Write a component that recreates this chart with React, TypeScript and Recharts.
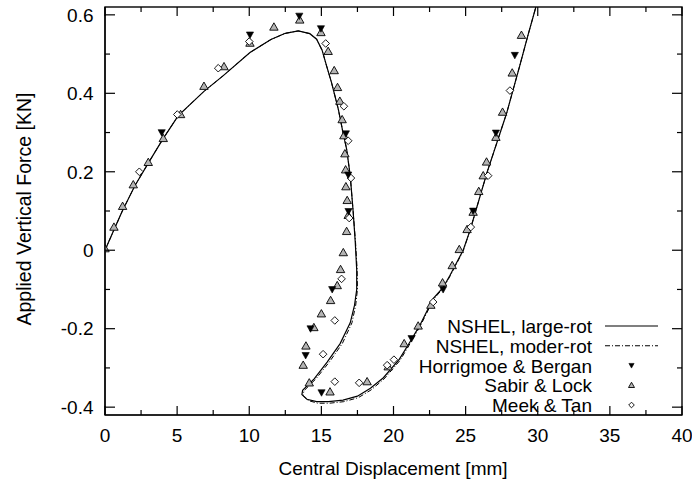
import React from "react"
import { ComposedChart, Line, Scatter, XAxis, YAxis } from "recharts"

// NSHEL curves (x = displacement mm, y = force KN)
const largeRot = [
  { x: 0, y: 0 }, { x: 0.6, y: 0.05 }, { x: 1.2, y: 0.1 }, { x: 2.08, y: 0.165 },
  { x: 3.0, y: 0.222 }, { x: 4.02, y: 0.284 }, { x: 5.08, y: 0.343 }, { x: 6.86, y: 0.405 },
  { x: 8.2, y: 0.445 }, { x: 10.05, y: 0.504 }, { x: 11.5, y: 0.537 }, { x: 12.5, y: 0.553 },
  { x: 13.4, y: 0.559 }, { x: 14.2, y: 0.552 }, { x: 14.67, y: 0.538 }, { x: 15.05, y: 0.51 },
  { x: 15.36, y: 0.47 }, { x: 15.7, y: 0.428 }, { x: 16.17, y: 0.36 }, { x: 16.5, y: 0.3 },
  { x: 16.75, y: 0.258 }, { x: 17.0, y: 0.19 }, { x: 17.2, y: 0.1 }, { x: 17.35, y: 0.02 },
  { x: 17.45, y: -0.05 }, { x: 17.45, y: -0.1 }, { x: 17.3, y: -0.14 }, { x: 17.0, y: -0.185 },
  { x: 16.3, y: -0.238 }, { x: 15.4, y: -0.285 }, { x: 14.5, y: -0.328 }, { x: 13.7, y: -0.357 },
  { x: 13.65, y: -0.368 }, { x: 14.0, y: -0.38 }, { x: 14.67, y: -0.386 }, { x: 15.5, y: -0.386 },
  { x: 16.5, y: -0.382 }, { x: 17.5, y: -0.372 }, { x: 18.4, y: -0.352 }, { x: 19.3, y: -0.325 },
  { x: 20.4, y: -0.278 }, { x: 21.14, y: -0.234 }, { x: 21.83, y: -0.191 }, { x: 22.75, y: -0.123 },
  { x: 23.44, y: -0.095 }, { x: 23.9, y: -0.065 }, { x: 24.4, y: -0.03 }, { x: 24.83, y: 0.0 },
  { x: 25.3, y: 0.05 }, { x: 25.7, y: 0.1 }, { x: 26.1, y: 0.15 }, { x: 26.5, y: 0.2 },
  { x: 26.95, y: 0.25 }, { x: 27.4, y: 0.3 }, { x: 27.85, y: 0.35 }, { x: 28.3, y: 0.41 },
  { x: 28.75, y: 0.47 }, { x: 29.3, y: 0.545 }, { x: 29.87, y: 0.62 },
]

const moderRot = [
  { x: 0, y: 0 }, { x: 0.6, y: 0.05 }, { x: 1.2, y: 0.1 }, { x: 2.08, y: 0.165 },
  { x: 3.0, y: 0.222 }, { x: 4.02, y: 0.284 }, { x: 5.08, y: 0.343 }, { x: 6.86, y: 0.405 },
  { x: 8.2, y: 0.445 }, { x: 10.05, y: 0.504 }, { x: 11.5, y: 0.537 }, { x: 12.5, y: 0.553 },
  { x: 13.4, y: 0.559 }, { x: 14.2, y: 0.552 }, { x: 14.67, y: 0.538 }, { x: 15.05, y: 0.51 },
  { x: 15.36, y: 0.47 }, { x: 15.7, y: 0.428 }, { x: 16.17, y: 0.36 }, { x: 16.5, y: 0.3 },
  { x: 16.75, y: 0.258 }, { x: 17.0, y: 0.19 }, { x: 17.2, y: 0.1 }, { x: 17.37, y: 0.02 },
  { x: 17.48, y: -0.05 }, { x: 17.5, y: -0.1 }, { x: 17.38, y: -0.14 }, { x: 17.12, y: -0.185 },
  { x: 16.45, y: -0.238 }, { x: 15.55, y: -0.285 }, { x: 14.62, y: -0.328 }, { x: 13.8, y: -0.358 },
  { x: 13.72, y: -0.37 }, { x: 14.08, y: -0.383 }, { x: 14.75, y: -0.39 }, { x: 15.55, y: -0.39 },
  { x: 16.55, y: -0.386 }, { x: 17.55, y: -0.376 }, { x: 18.45, y: -0.356 }, { x: 19.35, y: -0.328 },
  { x: 20.45, y: -0.281 }, { x: 21.18, y: -0.236 }, { x: 21.86, y: -0.193 }, { x: 22.78, y: -0.125 },
  { x: 23.46, y: -0.096 }, { x: 23.92, y: -0.066 }, { x: 24.42, y: -0.031 }, { x: 24.85, y: 0.0 },
  { x: 25.3, y: 0.05 }, { x: 25.7, y: 0.1 }, { x: 26.1, y: 0.15 }, { x: 26.5, y: 0.2 },
  { x: 26.95, y: 0.25 }, { x: 27.4, y: 0.3 }, { x: 27.85, y: 0.35 }, { x: 28.3, y: 0.41 },
  { x: 28.75, y: 0.47 }, { x: 29.3, y: 0.545 }, { x: 29.87, y: 0.62 },
]

const horrigmoeBergan = [
  { x: 3.93, y: 0.3 }, { x: 10.05, y: 0.549 }, { x: 13.47, y: 0.597 }, { x: 14.97, y: 0.565 },
  { x: 16.7, y: 0.297 }, { x: 16.86, y: 0.192 }, { x: 16.88, y: 0.099 }, { x: 15.75, y: -0.1 },
  { x: 14.25, y: -0.2 }, { x: 13.91, y: -0.268 }, { x: 15.01, y: -0.363 }, { x: 21.25, y: -0.225 },
  { x: 23.44, y: -0.1 }, { x: 25.52, y: 0.1 }, { x: 27.1, y: 0.299 }, { x: 28.41, y: 0.497 },
]

const sabirLock = [
  { x: 0, y: 0.004 }, { x: 0.62, y: 0.059 }, { x: 1.22, y: 0.112 }, { x: 1.96, y: 0.167 },
  { x: 3.0, y: 0.224 }, { x: 4.04, y: 0.285 }, { x: 5.24, y: 0.346 }, { x: 6.86, y: 0.418 },
  { x: 8.25, y: 0.468 }, { x: 10.05, y: 0.528 }, { x: 11.71, y: 0.569 }, { x: 13.5, y: 0.587 },
  { x: 14.97, y: 0.555 }, { x: 15.47, y: 0.507 }, { x: 15.89, y: 0.458 }, { x: 16.12, y: 0.415 },
  { x: 16.28, y: 0.38 }, { x: 16.44, y: 0.333 }, { x: 16.56, y: 0.292 }, { x: 16.63, y: 0.246 },
  { x: 16.68, y: 0.205 }, { x: 16.7, y: 0.162 }, { x: 16.79, y: 0.127 }, { x: 16.86, y: 0.089 },
  { x: 16.75, y: 0.048 }, { x: 16.52, y: -0.006 }, { x: 16.33, y: -0.049 }, { x: 16.1, y: -0.09 },
  { x: 15.64, y: -0.128 }, { x: 15.0, y: -0.162 }, { x: 14.48, y: -0.197 }, { x: 13.93, y: -0.244 },
  { x: 13.74, y: -0.293 }, { x: 14.16, y: -0.338 }, { x: 15.6, y: -0.361 }, { x: 18.17, y: -0.335 },
  { x: 19.63, y: -0.297 }, { x: 20.74, y: -0.238 }, { x: 21.71, y: -0.193 }, { x: 22.59, y: -0.14 },
  { x: 23.4, y: -0.083 }, { x: 24.07, y: -0.039 }, { x: 24.56, y: 0.002 }, { x: 25.1, y: 0.053 },
  { x: 25.52, y: 0.097 }, { x: 25.91, y: 0.15 }, { x: 26.22, y: 0.19 }, { x: 26.45, y: 0.225 },
  { x: 27.1, y: 0.288 }, { x: 27.56, y: 0.352 }, { x: 28.23, y: 0.452 }, { x: 28.87, y: 0.548 },
]

const meekTan = [
  { x: 2.38, y: 0.2 }, { x: 5.01, y: 0.346 }, { x: 7.85, y: 0.464 }, { x: 10.0, y: 0.532 },
  { x: 15.3, y: 0.527 }, { x: 16.56, y: 0.367 }, { x: 16.86, y: 0.279 }, { x: 17.05, y: 0.184 },
  { x: 16.93, y: 0.082 }, { x: 16.4, y: -0.073 }, { x: 15.93, y: -0.179 }, { x: 15.12, y: -0.265 },
  { x: 15.93, y: -0.335 }, { x: 17.62, y: -0.338 }, { x: 19.56, y: -0.293 }, { x: 20.03, y: -0.279 },
  { x: 22.75, y: -0.132 }, { x: 25.36, y: 0.059 }, { x: 26.56, y: 0.19 }, { x: 28.07, y: 0.407 },
]

const xMajorTicks = [0, 5, 10, 15, 20, 25, 30, 35, 40]
const xMinorTicks = [2.5, 7.5, 12.5, 17.5, 22.5, 27.5, 32.5, 37.5]
const yMajorTicks = [-0.4, -0.2, 0, 0.2, 0.4, 0.6]
const yMinorTicks = [-0.3, -0.1, 0.1, 0.3, 0.5]

const legendLabels = [
  "NSHEL, large-rot",
  "NSHEL, moder-rot",
  "Horrigmoe & Bergan",
  "Sabir & Lock",
  "Meek & Tan",
]

const xAllTicks = [...xMajorTicks, ...xMinorTicks].sort((a, b) => a - b)
const yAllTicks = [...yMajorTicks, ...yMinorTicks].sort((a, b) => a - b)

const font = '"Liberation Sans", Arial, Helvetica, sans-serif'
const ink = "#000"
const W = 692
const H = 489
const margin = { top: 7, right: 10, bottom: 0, left: 0 }
const yAxisW = 105
const xAxisH = 74
const plotW = W - yAxisW - margin.right // 577
const plotH = H - xAxisH - margin.top // 408

function UpTri({ cx, cy, s = 4.2 }: any) {
  return (
    <polygon
      points={`${cx},${cy - s} ${cx + s},${cy + s * 0.75} ${cx - s},${cy + s * 0.75}`}
      fill="#b4b4b4"
      stroke={ink}
      strokeWidth={0.9}
    />
  )
}

function DownTri({ cx, cy, s = 3.6 }: any) {
  return (
    <polygon
      points={`${cx - s},${cy - s * 0.8} ${cx + s},${cy - s * 0.8} ${cx},${cy + s}`}
      fill={ink}
      stroke={ink}
      strokeWidth={0.6}
    />
  )
}

function Diamond({ cx, cy, s = 3.8 }: any) {
  return (
    <polygon
      points={`${cx},${cy - s} ${cx + s},${cy} ${cx},${cy + s} ${cx - s},${cy}`}
      fill="#fff"
      stroke={ink}
      strokeWidth={0.9}
    />
  )
}

const isMajor = (list: number[], v: number) => list.some((t) => Math.abs(t - v) < 1e-9)

// bottom tick: inward tick, its mirror on the top edge, and the label
function BottomTick(props: any) {
  const { x, y, payload } = props
  const len = isMajor(xMajorTicks, payload.value) ? 9 : 5
  const top = y - plotH
  return (
    <g>
      <line x1={x} x2={x} y1={y} y2={y - len} stroke={ink} strokeWidth={1.2} />
      <line x1={x} x2={x} y1={top} y2={top + len} stroke={ink} strokeWidth={1.2} />
      {len === 9 && (
        <text x={x} y={y + 27} textAnchor="middle" fontSize={19} fontFamily={font} fill={ink}>
          {payload.value}
        </text>
      )}
    </g>
  )
}

// left tick: inward tick, its mirror on the right edge, and the label
function LeftTick(props: any) {
  const { x, y, payload } = props
  const len = isMajor(yMajorTicks, payload.value) ? 10 : 5
  const right = x + plotW
  return (
    <g>
      <line x1={x} x2={x + len} y1={y} y2={y} stroke={ink} strokeWidth={1.2} />
      <line x1={right} x2={right - len} y1={y} y2={y} stroke={ink} strokeWidth={1.2} />
      {len === 10 && (
        <text x={x - 11.5} y={y + 6.8} textAnchor="end" fontSize={19} fontFamily={font} fill={ink}>
          {String(payload.value)}
        </text>
      )}
    </g>
  )
}

export default function App() {
  const legendTextX = 592
  const legendBase = 333
  const legendStep = 19.75

  return (
    <div style={{ position: "absolute", left: 0, top: 0, width: W, height: H, background: "#fff" }}>
      <ComposedChart width={W} height={H} margin={margin}>
        <XAxis
          dataKey="x"
          type="number"
          domain={[0, 40]}
          allowDataOverflow
          ticks={xAllTicks}
          interval={0}
          tickSize={0}
          tickMargin={0}
          tickLine={false}
          tick={BottomTick}
          height={xAxisH}
          axisLine={{ stroke: ink, strokeWidth: 1.2 }}
        />
        <YAxis
          dataKey="y"
          type="number"
          domain={[-0.42, 0.62]}
          allowDataOverflow
          ticks={yAllTicks}
          interval={0}
          tickSize={0}
          tickMargin={0}
          tickLine={false}
          tick={LeftTick}
          width={yAxisW}
          axisLine={{ stroke: ink, strokeWidth: 1.2 }}
        />
        <Line
          data={moderRot}
          dataKey="y"
          type="linear"
          stroke={ink}
          strokeWidth={1}
          strokeDasharray="5 2 1 2"
          dot={false}
          activeDot={false}
          isAnimationActive={false}
        />
        <Line
          data={largeRot}
          dataKey="y"
          type="linear"
          stroke={ink}
          strokeWidth={1.2}
          dot={false}
          activeDot={false}
          isAnimationActive={false}
        />
        <Scatter data={sabirLock} shape={(p: any) => <UpTri cx={p.cx} cy={p.cy} />} isAnimationActive={false} />
        <Scatter data={meekTan} shape={(p: any) => <Diamond cx={p.cx} cy={p.cy} />} isAnimationActive={false} />
        <Scatter data={horrigmoeBergan} shape={(p: any) => <DownTri cx={p.cx} cy={p.cy} />} isAnimationActive={false} />
      </ComposedChart>

      <svg
        width={W}
        height={H}
        style={{ position: "absolute", left: 0, top: 0, pointerEvents: "none" }}
        fontFamily={font}
      >
        {/* full plot frame */}
        <rect
          x={yAxisW}
          y={margin.top}
          width={plotW}
          height={plotH}
          fill="none"
          stroke={ink}
          strokeWidth={1.4}
        />
        <text x={393} y={475} textAnchor="middle" fontSize={19} fill={ink}>
          Central Displacement [mm]
        </text>
        <text transform="translate(30.5,209) rotate(-90)" textAnchor="middle" fontSize={19.5} fill={ink}>
          Applied Vertical Force [KN]
        </text>
        {legendLabels.map((label, i) => {
          const base = legendBase + i * legendStep
          const cy = base - 7
          return (
            <g key={label}>
              <text x={legendTextX} y={base} textAnchor="end" fontSize={19} fill={ink}>
                {label}
              </text>
              {i === 0 && <line x1={605} x2={658} y1={cy} y2={cy} stroke={ink} strokeWidth={1.2} />}
              {i === 1 && (
                <line x1={605} x2={658} y1={cy} y2={cy} stroke={ink} strokeWidth={1} strokeDasharray="5 2 1 2" />
              )}
              {i === 2 && <DownTri cx={631.5} cy={cy} s={2.6} />}
              {i === 3 && <UpTri cx={631.5} cy={cy} s={3} />}
              {i === 4 && <Diamond cx={631.5} cy={cy} s={2.8} />}
            </g>
          )
        })}
      </svg>
    </div>
  )
}
